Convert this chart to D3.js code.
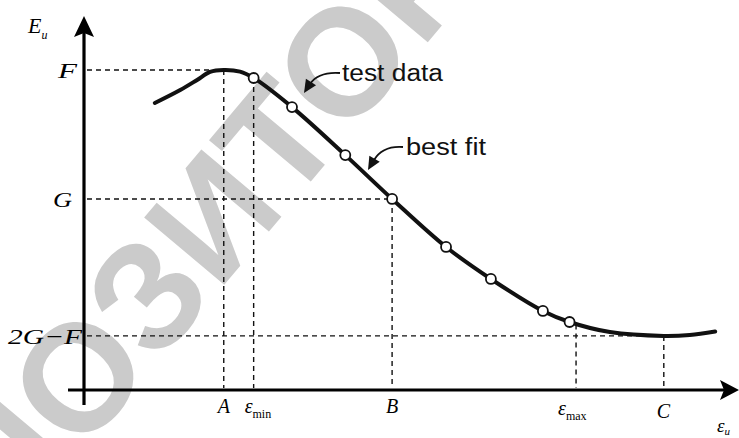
<!DOCTYPE html>
<html>
<head>
<meta charset="utf-8">
<script src="https://cdn.jsdelivr.net/npm/d3@7/dist/d3.min.js"></script>
<style>
  html, body { margin: 0; padding: 0; background: #fff; }
  svg { display: block; }
</style>
</head>
<body>
<svg id="chart" width="739" height="438"></svg>
<script>
// ---- data ----
const curveX = [10.9, 14.8, 17.4, 19.4, 21.5, 24.0, 26.1, 32.0, 40.2, 47.4, 55.7, 62.6, 70.6, 74.7, 80.9, 89.2, 93.2, 97.1];
const curveY = [0.897, 0.9375, 0.969, 0.994, 1.0, 0.995, 0.975, 0.884, 0.734, 0.597, 0.447, 0.347, 0.247, 0.2125, 0.181, 0.169, 0.172, 0.183];
const testX = [26.1, 32.0, 40.2, 47.4, 55.7, 62.6, 70.6, 74.7];
const testY = [0.975, 0.884, 0.734, 0.597, 0.447, 0.347, 0.247, 0.2125];
const xTickVals = [21.5, 26.1, 47.4, 75.7, 89.2];
const xTickLabels = ["A", "ε", "B", "ε", "C"];
const xTickSubs = ["", "min", "", "max", ""];
const xRefTop = [1.0, 0.975, 0.597, 0.205, 0.169];
const yTickVals = [1.0, 0.597, 0.169];
const yTickLabels = ["F", "G", "2G−F"];
const yRefEnd = [21.5, 47.4, 89.2];
const watermark = "РЕПОЗИТОРИЙ";

// ---- drawing ----
const svg = d3.select("#chart");
const x = d3.scaleLinear().domain([0, 100]).range([84, 734]);
const y = d3.scaleLinear().domain([0, 1]).range([390, 70]);

// watermark
svg.append("text")
  .attr("transform", "translate(-120,695) rotate(-50)")
  .attr("font-family", "Liberation Sans, Arial, sans-serif")
  .attr("font-size", 152)
  .attr("font-weight", "bold")
  .attr("fill", "#cbcbcb")
  .text(watermark);

// dashed reference lines
const dash = svg.append("g").attr("stroke", "#111").attr("stroke-width", 1.4)
  .attr("stroke-dasharray", "5,4").attr("fill", "none");
yTickVals.forEach((v, i) => {
  dash.append("line").attr("x1", x(0) + 3).attr("x2", x(yRefEnd[i]))
    .attr("y1", y(v)).attr("y2", y(v));
});
xTickVals.forEach((v, i) => {
  dash.append("line").attr("x1", x(v)).attr("x2", x(v))
    .attr("y1", y(xRefTop[i])).attr("y2", y(0) - 2);
});

// axes
const ax = svg.append("g").attr("stroke", "#000").attr("stroke-width", 3.2);
ax.append("line").attr("x1", x(0)).attr("x2", x(0)).attr("y1", y(0) + 15).attr("y2", 32);
ax.append("line").attr("x1", x(0) - 16).attr("x2", 726).attr("y1", y(0)).attr("y2", y(0));
svg.append("path").attr("d", `M${x(0)},16 L${x(0) + 10},37 L${x(0)},33 L${x(0) - 10},37 Z`).attr("fill", "#000");
svg.append("path").attr("d", `M739,${y(0)} L720,${y(0) - 10} L724,${y(0)} L720,${y(0) + 10} Z`).attr("fill", "#000");

// best-fit curve
const pts = curveX.map((d, i) => [d, curveY[i]]);
const line = d3.line().x(d => x(d[0])).y(d => y(d[1])).curve(d3.curveCatmullRom.alpha(0.5));
svg.append("path").datum(pts).attr("d", line)
  .attr("fill", "none").attr("stroke", "#111").attr("stroke-width", 4)
  .attr("stroke-linecap", "round");

// test data points
svg.append("g").selectAll("circle").data(testX.map((d, i) => [d, testY[i]])).join("circle")
  .attr("cx", d => x(d[0])).attr("cy", d => y(d[1])).attr("r", 5)
  .attr("fill", "#fff").attr("stroke", "#111").attr("stroke-width", 1.8);

// labels (serif italic)
const serif = "Liberation Serif, Times New Roman, serif";
const yLabelPos = [{w: 19, dx: -26}, {w: 19, dx: -31}, {w: 74, dx: -76}];
yTickVals.forEach((v, i) => {
  svg.append("text").attr("x", x(0) + yLabelPos[i].dx).attr("y", y(v) + 8)
    .attr("font-family", serif).attr("font-style", "italic").attr("font-size", 22)
    .attr("textLength", yLabelPos[i].w).attr("lengthAdjust", "spacingAndGlyphs")
    .text(yTickLabels[i]);
});
// y axis title E_u
const et = svg.append("text").attr("x", 28).attr("y", 33)
  .attr("font-family", serif).attr("font-style", "italic").attr("font-size", 22);
et.append("tspan").text("E");
et.append("tspan").attr("font-size", 12).attr("dy", 6).text("u");

const xLabelPos = [{dx: -6, by: 413}, {dx: -9, by: 413}, {dx: -6, by: 413}, {dx: -18, by: 415}, {dx: -7, by: 418}];
xTickVals.forEach((v, i) => {
  const t = svg.append("text").attr("x", x(v) + xLabelPos[i].dx).attr("y", xLabelPos[i].by)
    .attr("font-family", serif).attr("font-style", "italic").attr("font-size", 20);
  t.append("tspan").text(xTickLabels[i]);
  if (xTickSubs[i]) t.append("tspan").attr("font-size", 12).attr("font-style", "normal").attr("dy", 5).text(xTickSubs[i]);
});
// x axis title
const xt = svg.append("text").attr("x", 717).attr("y", 432)
  .attr("font-family", serif).attr("font-style", "italic").attr("font-size", 19);
xt.append("tspan").text("ε");
xt.append("tspan").attr("font-size", 11).attr("dy", 3).text("u");

// annotations
const sans = "Liberation Sans, Arial, Helvetica, sans-serif";
svg.append("text").attr("x", 342).attr("y", 81).attr("font-family", sans).attr("font-size", 23)
  .attr("textLength", 101).attr("lengthAdjust", "spacingAndGlyphs").attr("fill", "#111").text("test data");
svg.append("text").attr("x", 406).attr("y", 155).attr("font-family", sans).attr("font-size", 23)
  .attr("textLength", 80).attr("lengthAdjust", "spacingAndGlyphs").attr("fill", "#111").text("best fit");

function arrow(path, tip, from) {
  svg.append("path").attr("d", path).attr("fill", "none").attr("stroke", "#111").attr("stroke-width", 1.8);
  const ang = Math.atan2(tip[1] - from[1], tip[0] - from[0]);
  const L = 13, W = 6;
  const bx = tip[0] - L * Math.cos(ang), by = tip[1] - L * Math.sin(ang);
  const px = -Math.sin(ang) * W, py = Math.cos(ang) * W;
  svg.append("path").attr("d", `M${tip[0]},${tip[1]} L${bx + px},${by + py} L${bx - px},${by - py} Z`).attr("fill", "#111");
}
arrow("M340,73 C326,72 316,75 310,84", [304, 93], [311, 82]);
arrow("M403,147 C390,146 380,150 374,160", [368, 170], [375, 158]);
</script>
</body>
</html>
